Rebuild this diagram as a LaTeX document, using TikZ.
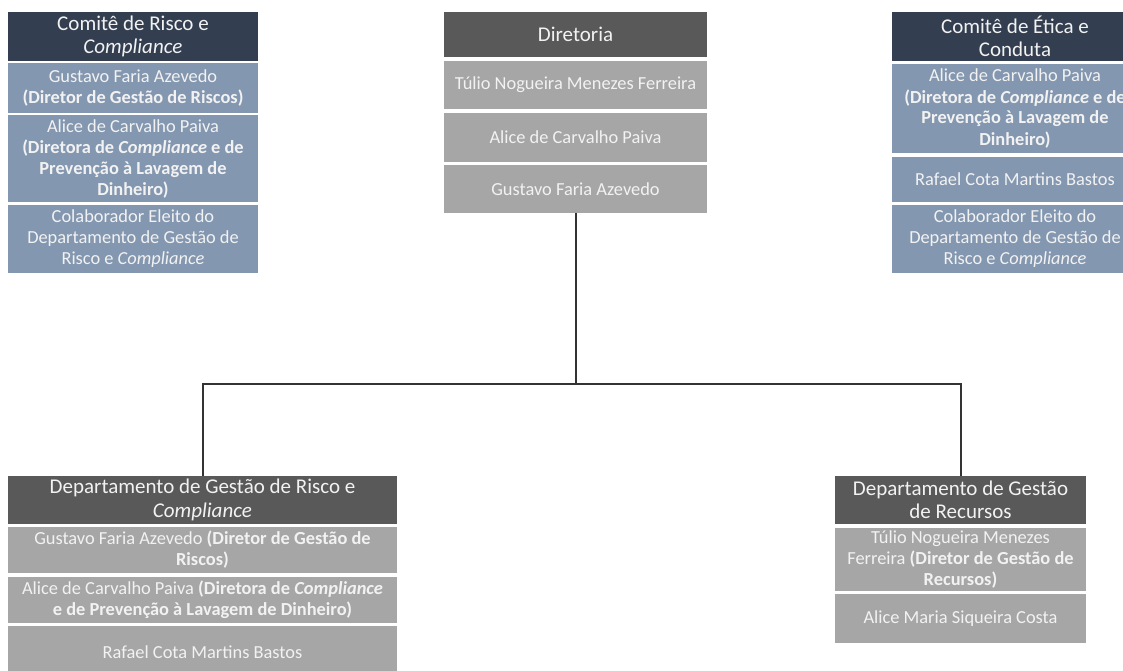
\documentclass[tikz,border=0pt]{standalone}
\usepackage{fontspec}
\setmainfont{Carlito}
\definecolor{navy}{HTML}{333F50}
\definecolor{slate}{HTML}{8497B0}
\definecolor{dgray}{HTML}{595959}
\definecolor{lgray}{HTML}{A6A6A6}
\definecolor{txt}{HTML}{F2F2F2}
\definecolor{conn}{HTML}{333333}
\begin{document}
\begin{tikzpicture}[x=1pt,y=-1pt,
  box/.style={inner sep=0pt, outer sep=0pt, align=center, text=txt, anchor=center},
  hdr/.style={box, font=\fontsize{21}{23.5}\selectfont},
  row/.style={box, font=\fontsize{18.4}{21}\selectfont},
  navyhdr/.style={hdr, fill=navy},
  grayhdr/.style={hdr, fill=dgray},
  sloprow/.style={row, fill=slate},
  grayrow/.style={row, fill=lgray},
  conline/.style={draw=conn, line width=2pt}]
\useasboundingbox (0,0) rectangle (1123,670);
\clip (0,0) rectangle (1123,670);
% Comite de Risco e Compliance
\node[navyhdr, minimum width=250pt, minimum height=49pt] (crh) at (133,36.5) {Comitê de Risco e\\\textit{Compliance}};
\node[sloprow, minimum width=250pt, minimum height=50pt] (cr1) at (133,88) {Gustavo Faria Azevedo\\\textbf{(Diretor de Gestão de Riscos)}};
\node[sloprow, minimum width=250pt, minimum height=87pt] (cr2) at (133,158.5) {Alice de Carvalho Paiva\\\textbf{(Diretora de \textit{Compliance} e de}\\\textbf{Prevenção à Lavagem de}\\\textbf{Dinheiro)}};
\node[sloprow, minimum width=250pt, minimum height=68pt] (cr3) at (133,239) {Colaborador Eleito do\\Departamento de Gestão de\\Risco e \textit{Compliance}};
% Diretoria
\node[grayhdr, minimum width=263pt, minimum height=45pt] (dh) at (575.5,34.5) {Diretoria};
\node[grayrow, minimum width=263pt, minimum height=48pt] (d1) at (575.5,85) {Túlio Nogueira Menezes Ferreira};
\node[grayrow, minimum width=263pt, minimum height=49pt] (d2) at (575.5,137.5) {Alice de Carvalho Paiva};
\node[grayrow, minimum width=263pt, minimum height=48pt] (d3) at (575.5,189) {Gustavo Faria Azevedo};
% Comite de Etica e Conduta
\node[navyhdr, minimum width=246pt, minimum height=49pt] (eh) at (1015,36.5) {Comitê de Ética e\\Conduta};
\node[sloprow, minimum width=246pt, minimum height=89pt] (e1) at (1015,108.5) {Alice de Carvalho Paiva\\\textbf{(Diretora de \textit{Compliance} e de}\\\textbf{Prevenção à Lavagem de}\\\textbf{Dinheiro)}};
\node[sloprow, minimum width=246pt, minimum height=45pt] (e2) at (1015,179.5) {Rafael Cota Martins Bastos};
\node[sloprow, minimum width=246pt, minimum height=68pt] (e3) at (1015,239) {Colaborador Eleito do\\Departamento de Gestão de\\Risco e \textit{Compliance}};
% Departamento de Gestao de Risco e Compliance
\node[grayhdr, minimum width=389pt, minimum height=48pt] (gh) at (202.5,500) {Departamento de Gestão de Risco e\\\textit{Compliance}};
\node[grayrow, minimum width=389pt, minimum height=46pt] (g1) at (202.5,550) {Gustavo Faria Azevedo \textbf{(Diretor de Gestão de}\\\textbf{Riscos)}};
\node[grayrow, minimum width=389pt, minimum height=46pt] (g2) at (202.5,600) {Alice de Carvalho Paiva \textbf{(Diretora de \textit{Compliance}}\\\textbf{e de Prevenção à Lavagem de Dinheiro)}};
\node[grayrow, minimum width=389pt, minimum height=52pt] (g3) at (202.5,652) {Rafael Cota Martins Bastos};
% Departamento de Gestao de Recursos
\node[grayhdr, minimum width=251pt, minimum height=48pt] (rh) at (960.5,500) {Departamento de Gestão\\de Recursos};
\node[grayrow, minimum width=251pt, minimum height=63pt] (r1) at (960.5,559.5) {Túlio Nogueira Menezes\\Ferreira \textbf{(Diretor de Gestão de}\\\textbf{Recursos)}};
\node[grayrow, minimum width=251pt, minimum height=49pt] (r2) at (960.5,618.5) {Alice Maria Siqueira Costa};
% connectors
\coordinate (bus) at (575.5,384);
\draw[conline] (d3.south) -- (bus);
\draw[conline] (gh.north) |- (bus) -| (rh.north);
\end{tikzpicture}
\end{document}
